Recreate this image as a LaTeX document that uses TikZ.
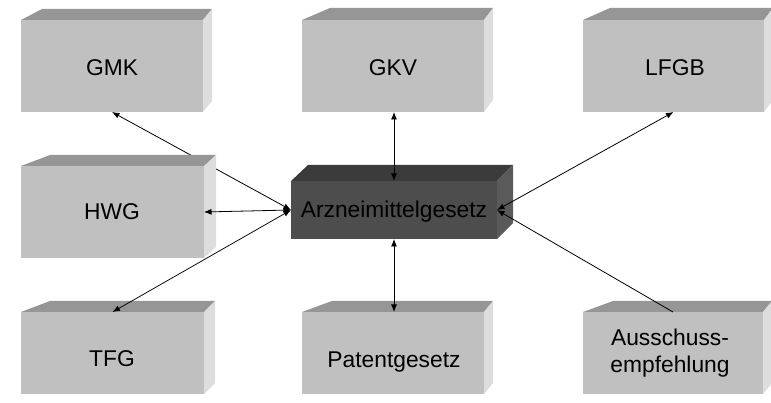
\documentclass[tikz,border=0pt]{standalone}
\usepackage{fontspec}
\setmainfont{Liberation Sans}
\usetikzlibrary{arrows.meta}
\pgfdeclarelayer{bg}
\pgfsetlayers{bg,main}
\definecolor{gfront}{HTML}{C0C0C0}
\definecolor{gtopc}{HTML}{969696}
\definecolor{gsidec}{HTML}{DDDDDD}
\definecolor{dfront}{HTML}{4D4D4D}
\definecolor{dtopc}{HTML}{3B3B3B}
\definecolor{dsidec}{HTML}{5A5A5A}
\tikzset{
  face/.style={draw=none, inner sep=0pt, outer sep=0pt, anchor=north west, rectangle},
  boxlabel/.style={font=\fontsize{22.8}{27}\selectfont, text=black, inner sep=0pt, anchor=base},
  con/.style={line width=0.8pt, draw=black},
  tip/.tip={Latex[length=7.5pt,width=6pt]},
  dbl/.style={con, tip-tip},
}
% #1 name, #2 x, #3 y, #4 w, #5 h, #6 dxl, #7 dxr, #8 dy, #9 colour set (g or d)
\newcommand\solidbox[9]{%
  \node[face, fill=#9front, minimum width=#4, minimum height=#5] (#1) at (#2,#3) {};
  \fill[#9topc] (#1.north west) -- ++(#6,-#8) -- ([shift={(#7,-#8)}]#1.north east) -- (#1.north east) -- cycle;
  \fill[#9sidec] (#1.north east) -- ++(#7,-#8) -- ([shift={(#7,-#8)}]#1.south east) -- (#1.south east) -- cycle;
}
\begin{document}
\begin{tikzpicture}[x=1pt,y=-1pt]
\useasboundingbox (0,0) rectangle (771,403);
% top row
\solidbox{gmk}{21}{20}{182}{92}{21}{9}{11}{g}
\node[boxlabel] (gmkt) at (112,76) {GMK};
\solidbox{gkv}{302}{20}{182}{92}{28}{9}{12}{g}
\node[boxlabel] (gkvt) at (393,76) {GKV};
\solidbox{lfgb}{583}{20}{181}{92}{27}{9}{12}{g}
\node[boxlabel] (lfgbt) at (675,76) {LFGB};
% centre
\solidbox{azg}{291}{181}{206}{58}{17}{16}{16}{d}
\node[boxlabel] (azgt) at (394,218) {Arzneimittelgesetz};
% connector hidden behind HWG
\begin{pgfonlayer}{bg}
\draw[dbl] (azg.west) -- (gmk.south);
\end{pgfonlayer}
% middle row
\solidbox{hwg}{21}{166}{183}{92}{29}{12}{11}{g}
\node[boxlabel] (hwgt) at (112,220) {HWG};
% bottom row
\solidbox{tfg}{21}{312}{183}{82}{29}{11}{11}{g}
\node[boxlabel] (tfgt) at (112,366) {TFG};
\solidbox{pat}{302}{312}{182}{82}{30}{9}{11}{g}
\node[boxlabel] (patt) at (394,367) {Patentgesetz};
\solidbox{aus}{583}{312}{180}{82}{30}{9}{11}{g}
\node[boxlabel] (aust1) at (670,345) {Ausschuss-};
\node[boxlabel] (aust2) at (670,372) {empfehlung};
% connectors
\draw[dbl] (azg.west) -- (hwg.east);
\draw[dbl] (azg.west) -- (tfg.north);
\draw[dbl] (azg.north) -- (azg.north |- gkv.south);
\draw[dbl] (azg.south) -- (azg.south |- pat.north);
\draw[dbl] (azg.east) -- (lfgb.south);
\draw[con, -tip] (aus.north) -- (azg.east);
\end{tikzpicture}
\end{document}
